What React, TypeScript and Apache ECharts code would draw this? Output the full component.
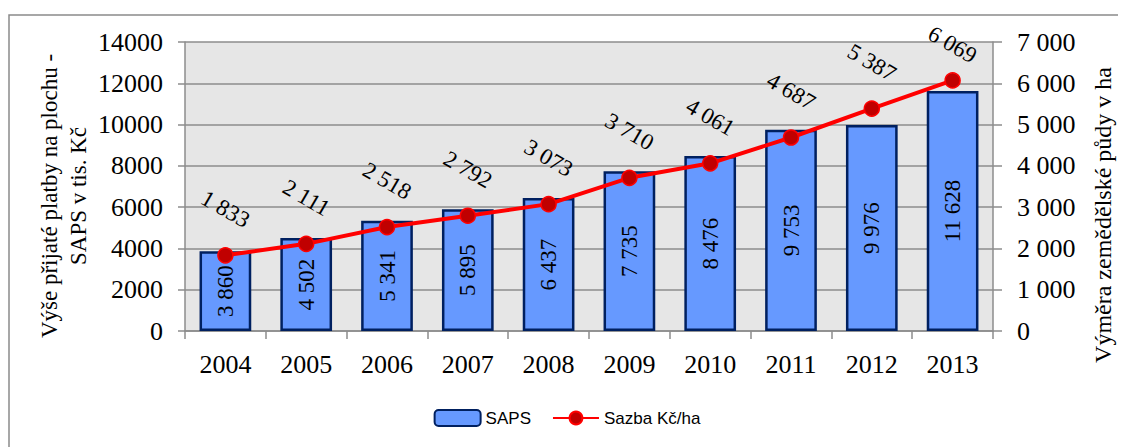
import React, { useEffect, useRef } from "react";
import * as echarts from "echarts";

const years = ["2004", "2005", "2006", "2007", "2008", "2009", "2010", "2011", "2012", "2013"];
const sapsValues = [3860, 4502, 5341, 5895, 6437, 7735, 8476, 9753, 9976, 11628];
const rateValues = [1833, 2111, 2518, 2792, 3073, 3710, 4061, 4687, 5387, 6069];
const leftTitle = "Výše přijaté platby na plochu -\nSAPS v tis. Kč";
const rightTitle = "Výměra zemědělské půdy v ha";
const seriesNames = ["SAPS", "Sazba Kč/ha"];

const serif = "Liberation Serif";
const fmtSpace = (v: number) => {
  const s = String(Math.round(v));
  return s.replace(/\B(?=(\d{3})+(?!\d))/g, " ");
};

export default function App() {
  const ref = useRef<HTMLDivElement>(null);
  useEffect(() => {
    if (!ref.current) return;
    const chart = echarts.init(ref.current, undefined, { renderer: "svg" });
    const lineData = rateValues.map((v, i) =>
      i === rateValues.length - 1
        ? { value: v, label: { offset: [-18, -31] } }
        : { value: v }
    );
    chart.setOption({
      animation: false,
      textStyle: { fontFamily: serif },
      graphic: [
        {
          type: "rect",
          shape: { x: 1, y: 7, width: 1300, height: 600 },
          style: { fill: "none", stroke: "#8a8a8a", lineWidth: 1.5 },
          silent: true,
        },
        {
          type: "text",
          x: 56,
          y: 188,
          rotation: Math.PI / 2,
          style: {
            text: leftTitle,
            font: `23px ${serif}`,
            fill: "#000",
            textAlign: "center",
            textVerticalAlign: "middle",
            lineHeight: 29,
          },
        },
        {
          type: "text",
          x: 1095,
          y: 207,
          rotation: Math.PI / 2,
          style: {
            text: rightTitle,
            font: `24px ${serif}`,
            fill: "#000",
            textAlign: "center",
            textVerticalAlign: "middle",
          },
        },
      ],
      legend: {
        left: "center",
        top: 401,
        itemWidth: 46,
        itemHeight: 16,
        itemGap: 21,
        padding: 0,
        textStyle: { fontFamily: "Liberation Sans", fontSize: 17, color: "#000" },
        data: seriesNames,
      },
      grid: {
        left: 177,
        top: 34,
        width: 808,
        height: 289,
        show: true,
        backgroundColor: "#e6e6e6",
        borderWidth: 0,
      },
      xAxis: {
        type: "category",
        data: years,
        boundaryGap: true,
        axisLine: { lineStyle: { color: "#8c8c8c", width: 1.5 } },
        axisTick: { show: true, length: 8, lineStyle: { color: "#8c8c8c", width: 1.5 } },
        axisLabel: { color: "#000", fontSize: 26, fontFamily: serif, margin: 20 },
        splitLine: { show: false },
      },
      yAxis: [
        {
          type: "value",
          min: 0,
          max: 14000,
          interval: 2000,
          axisLine: { show: true, lineStyle: { color: "#8c8c8c", width: 1.5 } },
          axisTick: { show: true, length: 7, lineStyle: { color: "#8c8c8c", width: 1.5 } },
          axisLabel: { color: "#000", fontSize: 26, fontFamily: serif, margin: 22, formatter: (v: number) => String(v) },
          splitLine: { show: true, lineStyle: { color: "#8c8c8c", width: 1.5 } },
        },
        {
          type: "value",
          min: 0,
          max: 7000,
          interval: 1000,
          position: "right",
          axisLabel: { color: "#000", fontSize: 26, fontFamily: serif, margin: 24, formatter: (v: number) => fmtSpace(v) },
          axisLine: { show: true, lineStyle: { color: "#8c8c8c", width: 1.5 } },
          axisTick: { show: true, length: 9, lineStyle: { color: "#8c8c8c", width: 1.5 } },
          splitLine: { show: false },
        },
      ],
      series: [
        {
          name: seriesNames[0],
          type: "bar",
          yAxisIndex: 0,
          data: sapsValues,
          barWidth: "64%",
          itemStyle: { color: "#6699ff", borderColor: "#002060", borderWidth: 2.5 },
          label: {
            show: true,
            position: "inside",
            rotate: 90,
            color: "#000",
            fontSize: 23,
            fontFamily: serif,
            formatter: (p: any) => fmtSpace(p.value),
          },
          z: 2,
        },
        {
          name: seriesNames[1],
          type: "line",
          yAxisIndex: 1,
          data: lineData,
          symbol: "circle",
          symbolSize: 15,
          lineStyle: { color: "#ff0000", width: 4 },
          itemStyle: { color: "#c00000", borderColor: "#ff0000", borderWidth: 1.5 },
          label: {
            show: true,
            position: "inside",
            offset: [-23, -40],
            rotate: -30,
            align: "center",
            verticalAlign: "middle",
            color: "#000",
            fontSize: 23,
            fontFamily: serif,
            formatter: (p: any) => fmtSpace(p.value),
          },
          z: 3,
        },
      ],
    });
    return () => chart.dispose();
  }, []);
  return <div ref={ref} style={{ width: 1118, height: 439 }} />;
}
